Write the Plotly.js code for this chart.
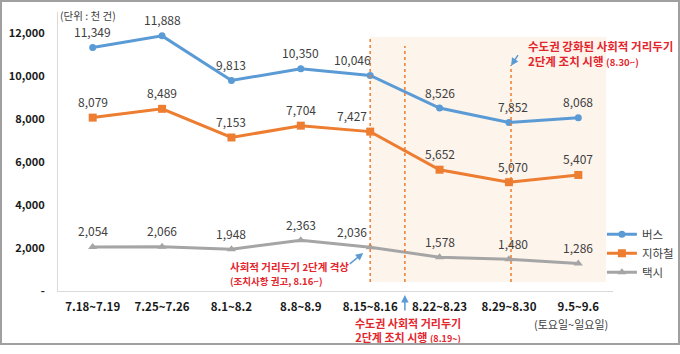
<!DOCTYPE html>
<html>
<head>
<meta charset="utf-8">
<script src="https://cdn.plot.ly/plotly-3.0.1.min.js"></script>
<style>
html,body{margin:0;padding:0;background:#fff;}
#wrap{position:relative;width:680px;height:354px;}
#chart{position:absolute;left:0;top:0;width:680px;height:354px;}
#frame{position:absolute;left:0;top:0;width:676px;height:341px;border:2px solid #a0a0a0;pointer-events:none;}
</style>
</head>
<body>
<div id="wrap"><div id="chart"></div><div id="frame"></div></div>
<script>
// ---- data ----
const categories = ['7.18~7.19','7.25~7.26','8.1~8.2','8.8~8.9','8.15~8.16','8.22~8.23','8.29~8.30','9.5~9.6'];
const busValues    = [11349, 11888, 9813, 10350, 10046, 8526, 7852, 8068];
const subwayValues = [8079, 8489, 7153, 7704, 7427, 5652, 5070, 5407];
const taxiValues   = [2054, 2066, 1948, 2363, 2036, 1578, 1480, 1286];
const seriesNames  = ['버스', '지하철', '택시'];
const yTickVals    = [0, 2000, 4000, 6000, 8000, 10000, 12000];
const yTickText    = ['-', '2,000', '4,000', '6,000', '8,000', '10,000', '12,000'];

// ---- style ----
const colors = ['#5b9bd5', '#ed7d31', '#a5a5a5'];
const symbols = ['circle', 'square', 'triangle-up'];
const labelXShift = [0, 0, 0, 0, -18, 0, 4, 0];
const red = '#e3262e';
const cjk = '"Noto Sans CJK KR", "Noto Sans", sans-serif';

const idx = categories.map((c, i) => i);
const allSeries = [busValues, subwayValues, taxiValues];

const traces = allSeries.map((vals, s) => ({
  type: 'scatter', mode: 'lines+markers',
  x: idx, y: vals, name: seriesNames[s],
  line: {color: colors[s], width: 3},
  marker: {color: colors[s], symbol: symbols[s], size: s === 0 ? 7 : 8},
  hoverinfo: 'skip'
}));

const fmt = v => v.toLocaleString('en-US');
const annotations = [];
allSeries.forEach((vals, s) => {
  vals.forEach((v, i) => {
    annotations.push({
      x: i, y: v, xref: 'x', yref: 'y', text: fmt(v), showarrow: false,
      yshift: 16, xshift: labelXShift[i],
      font: {family: cjk, size: 12, color: '#404040'}
    });
  });
});

// note texts
annotations.push({
  xref: 'x', yref: 'y', x: 6.25, y: 11050, xanchor: 'left', yanchor: 'middle', align: 'left',
  text: '<b>수도권 강화된 사회적 거리두기<br>2단계 조치 시행 <span style="font-size:9.5px">(8.30~)</span></b>',
  showarrow: false, font: {family: cjk, size: 11.5, color: red}
});
annotations.push({
  xref: 'x', yref: 'y', x: 6.03, y: 10500, ax: 8, ay: -12, axref: 'pixel', ayref: 'pixel',
  showarrow: true, arrowhead: 2, arrowsize: 1, arrowwidth: 1.5, arrowcolor: colors[0], text: ''
});
annotations.push({
  xref: 'x', yref: 'paper', x: 1.95, y: 0, xanchor: 'left', yanchor: 'bottom', align: 'left',
  yshift: 1,
  text: '<b>사회적 거리두기 <span style="font-size:9.5px">2</span>단계 격상<br><span style="font-size:9.5px">(조치사항 권고, 8.16~)</span></b>',
  showarrow: false, font: {family: cjk, size: 10.5, color: red}
});
annotations.push({
  xref: 'x', yref: 'y', x: 3.9, y: 1770, ax: -15, ay: 12, axref: 'pixel', ayref: 'pixel',
  showarrow: true, arrowhead: 2, arrowsize: 1, arrowwidth: 1.5, arrowcolor: colors[0], text: ''
});
annotations.push({
  xref: 'x', yref: 'paper', x: 4.5, y: 0, ax: 0, ay: 17, axref: 'pixel', ayref: 'pixel',
  yshift: -4,
  showarrow: true, arrowhead: 2, arrowsize: 1, arrowwidth: 1.5, arrowcolor: colors[0], text: ''
});
annotations.push({
  xref: 'x', yref: 'paper', x: 4.55, y: 0, xanchor: 'center', yanchor: 'top', align: 'center',
  yshift: -22,
  text: '<b>수도권 사회적 거리두기<br>2단계 조치 시행 <span style="font-size:9px">(8.19~)</span></b>',
  showarrow: false, font: {family: cjk, size: 11, color: red}
});
annotations.push({
  xref: 'x', yref: 'paper', x: 6.9, y: 0, xanchor: 'center', yanchor: 'top',
  yshift: -23, text: '(토요일~일요일)', showarrow: false,
  font: {family: cjk, size: 11, color: '#404040'}
});
annotations.push({
  xref: 'paper', yref: 'paper', x: 0.0, y: 1, xanchor: 'left', yanchor: 'middle',
  yshift: -3, xshift: 0,
  text: '(단위 : 천 건)', showarrow: false,
  font: {family: cjk, size: 10.5, color: '#404040'}
});

const shapes = [
  {type: 'rect', xref: 'x', yref: 'y', x0: 4, x1: 7.4, y0: 420, y1: 11830,
   fillcolor: '#fdf4ec', line: {width: 0}, layer: 'below'},
  {type: 'line', xref: 'x', yref: 'y', x0: 4, x1: 4, y0: 420, y1: 11790,
   line: {color: '#ed7d31', width: 1.5, dash: 'dot'}},
  {type: 'line', xref: 'x', yref: 'y', x0: 4.5, x1: 4.5, y0: 420, y1: 11420,
   line: {color: '#ed7d31', width: 1.5, dash: 'dot'}},
  {type: 'line', xref: 'x', yref: 'y', x0: 6.03, x1: 6.03, y0: 420, y1: 10530,
   line: {color: '#ed7d31', width: 1.5, dash: 'dot'}}
];

const layout = {
  width: 680, height: 354,
  margin: {l: 58, r: 67, t: 12, b: 63, autoexpand: false},
  paper_bgcolor: '#ffffff', plot_bgcolor: 'rgba(0,0,0,0)',
  showlegend: true,
  legend: {x: 0.98, xanchor: 'left', y: 0.255, yanchor: 'top',
           font: {family: cjk, size: 11.5, color: '#404040'}, tracegroupgap: 0,
           bgcolor: 'rgba(0,0,0,0)', itemwidth: 30},
  xaxis: {range: [-0.5, 7.5], tickvals: idx, ticktext: categories,
          showline: true, linecolor: '#d9d9d9', linewidth: 1, showgrid: false, zeroline: false,
          ticks: '', ticklabelstandoff: 5,
          tickfont: {family: cjk, size: 11.5, color: '#1a1a1a', weight: 'bold'}},
  yaxis: {range: [0, 13000], tickvals: yTickVals, ticktext: yTickText,
          showline: true, linecolor: '#d9d9d9', linewidth: 1, showgrid: false, zeroline: false,
          ticks: '', ticklabelstandoff: 10,
          tickfont: {family: cjk, size: 11, color: '#1a1a1a', weight: 'bold'}},
  annotations: annotations,
  shapes: shapes
};

Plotly.newPlot('chart', traces, layout, {displayModeBar: false, staticPlot: true});
</script>
</body>
</html>
